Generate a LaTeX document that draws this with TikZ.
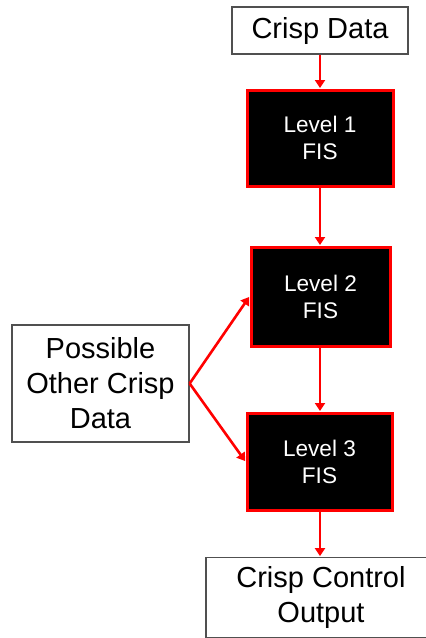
\documentclass[tikz,border=0pt]{standalone}
\usepackage{fontspec}
\setmainfont{Liberation Sans}
\usetikzlibrary{arrows.meta}
\definecolor{boxgray}{HTML}{505050}
\definecolor{arrred}{HTML}{FF0000}
\tikzset{
  whitebox/.style={draw=boxgray, line width=1.3pt, fill=white, align=center,
    font=\fontsize{29}{35}\selectfont, inner sep=0pt},
  fisbox/.style={draw=arrred, line width=3pt, fill=black, text=white, align=center,
    font=\fontsize{22.6}{27}\selectfont, inner sep=0pt},
  flow/.style={draw=arrred, line width=2.6pt, -{Triangle[length=8pt,width=10pt]}, shorten >=0.5pt}
}
\begin{document}
\begin{tikzpicture}[x=1pt,y=-1pt]
\useasboundingbox (0,0) rectangle (426,638);
\clip (0,0) rectangle (426,638);
\node[whitebox, minimum width=176pt, minimum height=47pt] (cd) at (320,30.5) {Crisp Data};
\node[fisbox, minimum width=146pt, minimum height=96pt] (l1) at (320,138) {Level 1\\FIS};
\node[fisbox, minimum width=139pt, minimum height=99pt] (l2) at (320.5,296.5) {Level 2\\FIS};
\node[fisbox, minimum width=145pt, minimum height=97pt] (l3) at (319.5,461.5) {Level 3\\FIS};
\node[whitebox, minimum width=177pt, minimum height=117pt] (po) at (100.5,383.5) {Possible\\Other Crisp\\Data};
\node[whitebox, minimum width=240pt, minimum height=80.5pt] (out) at (326,597.5) {\hspace*{-10pt}Crisp Control\\\hspace*{-10pt}Output};
\draw[flow] (cd.south) -- (l1.north);
\draw[flow] (l1.south) -- (l1.south |- l2.north);
\draw[flow] (l1.south |- l2.south) -- (l1.south |- l3.north);
\draw[flow] (l1.south |- l3.south) -- (l1.south |- out.north);
\draw[flow] (po.east) -- (l2.west);
\draw[flow] (po.east) -- (l3.west);
\end{tikzpicture}
\end{document}
